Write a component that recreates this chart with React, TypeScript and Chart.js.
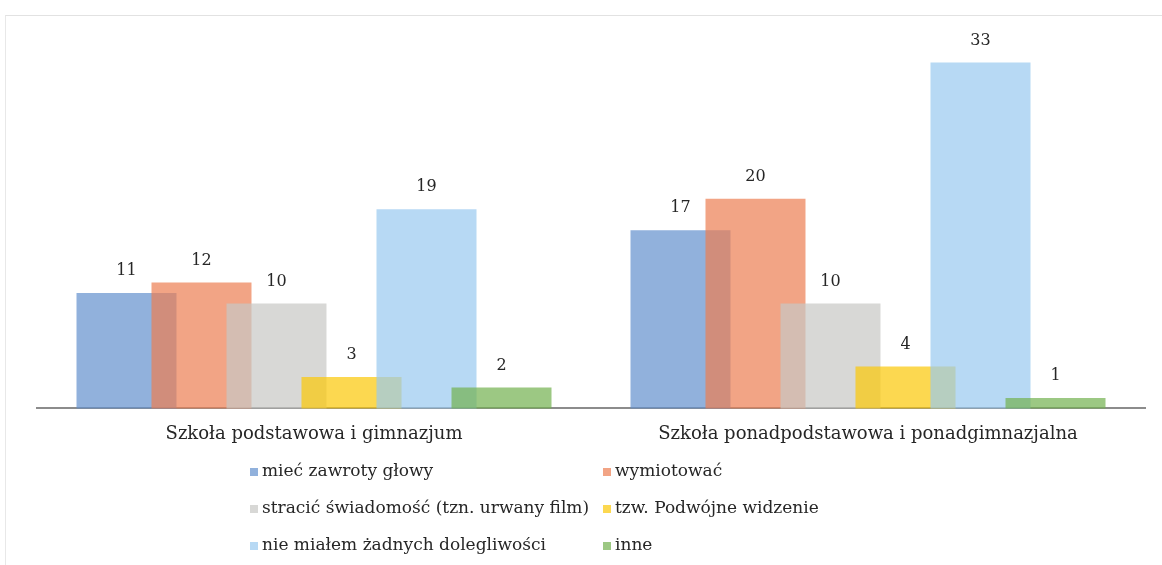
import React, { useEffect, useRef } from "react";
import { Chart, registerables } from "chart.js";

Chart.register(...registerables);

const categories = [
  "Szkoła podstawowa i gimnazjum",
  "Szkoła ponadpodstawowa i ponadgimnazjalna",
];

const seriesNames = [
  "mieć zawroty głowy",
  "wymiotować",
  "stracić świadomość (tzn. urwany film)",
  "tzw. Podwójne widzenie",
  "nie miałem żadnych dolegliwości",
  "inne",
];

const dizzy = [11, 17];
const vomit = [12, 20];
const blackout = [10, 10];
const doubleVision = [3, 4];
const none = [19, 33];
const other = [2, 1];

const seriesValues = [dizzy, vomit, blackout, doubleVision, none, other];

const seriesColors = [
  "rgba(99,144,205,0.7)",
  "rgba(236,126,81,0.7)",
  "rgba(199,199,196,0.7)",
  "rgba(251,199,5,0.7)",
  "rgba(152,201,239,0.7)",
  "rgba(114,176,79,0.7)",
];

const SERIF = "'DejaVu Serif', 'Liberation Serif', serif";

const forwardDrawPlugin = {
  id: "forwardDraw",
  beforeDatasetsDraw(chart: any) {
    const metas = chart.getSortedVisibleDatasetMetas();
    for (const m of metas) m.controller.draw();
    return false;
  },
};

const labelsAndLegendPlugin = {
  id: "labelsAndLegend",
  afterDraw(chart: any) {
    const ctx = chart.ctx;
    ctx.save();
    // value labels
    ctx.font = `16px ${SERIF}`;
    ctx.fillStyle = "#262626";
    ctx.textAlign = "center";
    ctx.textBaseline = "bottom";
    chart.data.datasets.forEach((ds: any, i: number) => {
      const meta = chart.getDatasetMeta(i);
      meta.data.forEach((el: any, j: number) => {
        ctx.fillText(String(ds.data[j]), el.x, el.y - 14);
      });
    });
    // legend (2 columns x 3 rows)
    const colX = [250, 603];
    const rowY = [472, 509, 546];
    ctx.font = `17px ${SERIF}`;
    ctx.textAlign = "left";
    ctx.textBaseline = "middle";
    chart.data.datasets.forEach((ds: any, i: number) => {
      const x = colX[i % 2];
      const y = rowY[Math.floor(i / 2)];
      ctx.fillStyle = ds.backgroundColor;
      ctx.fillRect(x, y - 4, 8, 8);
      ctx.fillStyle = "#262626";
      ctx.fillText(ds.label, x + 12, y);
    });
    ctx.restore();
  },
};

export default function App() {
  const ref = useRef<HTMLCanvasElement>(null);
  useEffect(() => {
    if (!ref.current) return;
    const chart = new Chart(ref.current, {
      type: "bar",
      data: {
        labels: categories,
        datasets: seriesNames.map((name, i) => ({
          label: name,
          data: seriesValues[i],
          backgroundColor: seriesColors[i],
          borderWidth: 0,
          categoryPercentage: 0.8123,
          barPercentage: 1.3333,
        })),
      },
      options: {
        animation: false,
        responsive: true,
        maintainAspectRatio: false,
        layout: { padding: { left: 37, right: 17, top: 31, bottom: 105 } },
        plugins: {
          legend: { display: false },
          tooltip: { enabled: false },
        },
        scales: {
          x: {
            grid: { display: false, drawTicks: false },
            border: { display: true, color: "#8c8c8c", width: 2 },
            ticks: {
              font: { family: SERIF, size: 18 },
              color: "#262626",
              padding: 15,
              maxRotation: 0,
            },
          },
          y: {
            display: false,
            min: 0,
            max: 36,
          },
        },
      },
      plugins: [forwardDrawPlugin, labelsAndLegendPlugin],
    });
    return () => chart.destroy();
  }, []);
  return (
    <div
      style={{
        position: "fixed",
        left: 0,
        top: 0,
        width: 1162,
        height: 565,
        background: "#fff",
      }}
    >
      <div
        style={{
          position: "absolute",
          left: 5,
          top: 15,
          right: 0,
          bottom: 0,
          borderTop: "1px solid #e2e2e2",
          borderLeft: "1px solid #e8e8e8",
        }}
      />
      <canvas ref={ref} />
    </div>
  );
}
